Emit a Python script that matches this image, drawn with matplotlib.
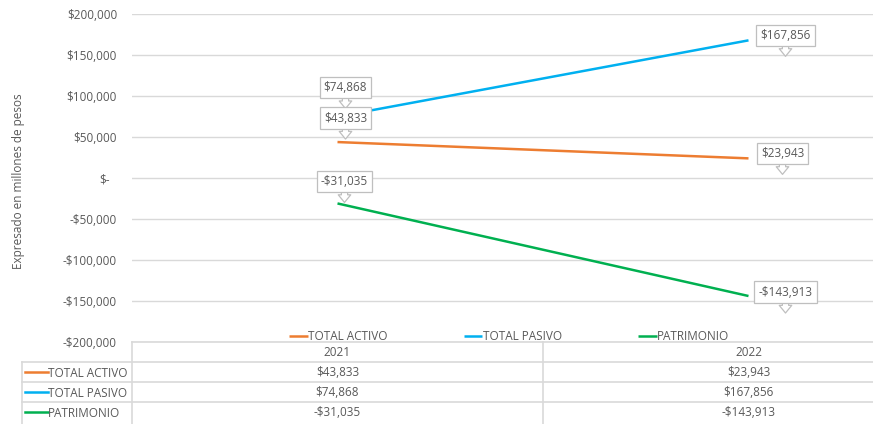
import matplotlib.pyplot as plt
from matplotlib.transforms import offset_copy, ScaledTranslation

years = ['2021', '2022']
series = ['TOTAL ACTIVO', 'TOTAL PASIVO', 'PATRIMONIO']
activo = [43833, 23943]
pasivo = [74868, 167856]
patrimonio = [-31035, -143913]
yticks = [-200000, -150000, -100000, -50000, 0, 50000, 100000, 150000, 200000]

colors = ['#ED7D31', '#00B0F0', '#00B050']
txt = '#595959'
grid = '#d9d9d9'
W, H = 873, 424

plt.rcParams['font.family'] = ['Open Sans', 'DejaVu Sans']
fs = 8.5


def money(v):
    if v == 0:
        return '$-'
    s = '${:,.0f}'.format(abs(v))
    return '-' + s if v < 0 else s


def fx(px):
    return px / W


def fy(py):
    return 1 - py / H


fig = plt.figure(figsize=(W / 100, H / 100), dpi=100)
ax = fig.add_axes([fx(132), fy(342), fx(873 - 132), (342 - 14) / H])

values = [activo, pasivo, patrimonio]
xs = range(len(years))
for name, vals, c in zip(series, values, colors):
    ax.plot(xs, vals, color=c, lw=1.8, label=name, solid_capstyle='butt')

ax.set_xlim(-0.5, (873 - 337.5) / 411)
ax.set_ylim(-200000, 200000)
ax.set_yticks(yticks)
ax.set_yticklabels([money(v) for v in yticks])
ax.set_xticks([])
ax.tick_params(axis='y', length=0, pad=10.8, labelsize=fs, labelcolor=txt)
for s in ax.spines.values():
    s.set_visible(False)
ax.grid(axis='y', color=grid, lw=1)
ax.set_axisbelow(True)

# "$-" sits a bit left like Excel accounting format
for t, v in zip(ax.yaxis.get_major_ticks(), yticks):
    if v == 0:
        t.label1.set_transform(t.label1.get_transform() +
                               ScaledTranslation(-0.07, 0, fig.dpi_scale_trans))

# data callouts (offsets in pixels: box centre relative to point)
offsets = [
    [(8, 24), (34, 5)],
    [(8, 29), (37, 5)],
    [(7, 22), (37, 4)],
]
for vals, offs in zip(values, offsets):
    for i, (v, (dx, dy)) in enumerate(zip(vals, offs)):
        base = offset_copy(ax.transData, fig=fig, x=dx, y=dy - 8, units='dots')
        tip = offset_copy(ax.transData, fig=fig, x=dx, y=dy - 21, units='dots')
        ax.annotate('', xy=(i, v), xycoords=tip, xytext=(i, v), textcoords=base,
                    arrowprops=dict(arrowstyle='simple,head_width=0.9,head_length=0.55,tail_width=0.45',
                                    fc='white', ec='#bfbfbf', lw=0.9,
                                    shrinkA=0, shrinkB=0), zorder=4)
        ax.annotate(money(v), xy=(i, v), xytext=(dx, dy), textcoords='offset pixels',
                    ha='center', va='center', fontsize=fs, color=txt, zorder=5,
                    bbox=dict(boxstyle='square,pad=0.35', fc='white', ec='#bfbfbf', lw=0.9))

leg = ax.legend(loc='center left', bbox_to_anchor=(fx(289), fy(337)),
                bbox_transform=fig.transFigure, ncol=3, frameon=False,
                fontsize=fs, handlelength=1.6, handletextpad=0.05,
                columnspacing=6.4, borderaxespad=0, borderpad=0)
for t in leg.get_texts():
    t.set_color(txt)

fig.text(fx(19), fy(181), 'Expresado en millones de pesos', rotation=90,
         ha='center', va='center', fontsize=fs, color=txt)

# data table under the chart
lc = dict(color=grid, lw=1.2, transform=fig.transFigure)
for y in [342, 362, 382, 402]:
    x0 = 132 if y == 342 else 22
    fig.add_artist(plt.Line2D([fx(x0), 1], [fy(y), fy(y)], **lc))
fig.add_artist(plt.Line2D([fx(132), fx(132)], [fy(342), 0], **lc))
fig.add_artist(plt.Line2D([fx(543), fx(543)], [fy(342), 0], **lc))
fig.add_artist(plt.Line2D([fx(22), fx(22)], [fy(362), 0], **lc))

fig.canvas.draw()
to_fig = ax.transData + fig.transFigure.inverted()
for i, yr in enumerate(years):
    cx = to_fig.transform((i, 0))[0]
    fig.text(cx, fy(353), yr, ha='center', va='center', fontsize=fs, color=txt)
    for r, vals in enumerate(values):
        fig.text(cx, fy(373 + 20 * r), money(vals[i]), ha='center', va='center',
                 fontsize=fs, color=txt)
for r, (name, c) in enumerate(zip(series, colors)):
    yy = fy(372 + 20 * r)
    fig.add_artist(plt.Line2D([fx(25), fx(48)], [yy, yy], color=c, lw=1.8,
                              transform=fig.transFigure))
    fig.text(fx(48), fy(373.5 + 20 * r), name, ha='left', va='center',
             fontsize=fs, color=txt)

fig.savefig('out.png', dpi=100)
